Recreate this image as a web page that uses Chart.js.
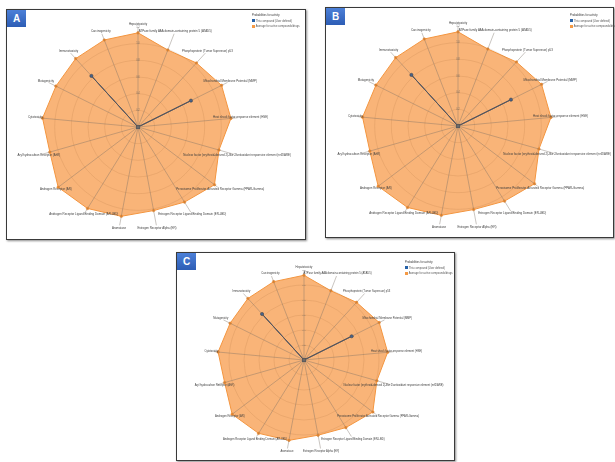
<!DOCTYPE html>
<html>
<head>
<meta charset="utf-8">
<script src="https://cdn.jsdelivr.net/npm/chart.js@4.4.1/dist/chart.umd.min.js"></script>
<style>
  html,body{margin:0;padding:0;background:#fff;}
  body{width:615px;height:462px;position:relative;overflow:hidden;font-family:"Liberation Sans",Arial,sans-serif;}
  .panel{position:absolute;box-sizing:border-box;border:1px solid #3a3a3a;box-shadow:1px 1px 2px rgba(0,0,0,0.45);background:#fff;}
  .panel canvas{position:absolute;left:0;top:0;}
  .tag{position:absolute;left:0;top:0;width:19px;height:17px;background:linear-gradient(#4c80d8,#2d5db5);color:#fff;font-weight:bold;font-size:10px;line-height:17px;text-align:center;}
  .lg{position:absolute;font-size:2.7px;line-height:5.5px;color:#555;white-space:nowrap;}
  .lg .lt{color:#333;}
  .sw{display:inline-block;width:2.6px;height:2.6px;margin-right:1.2px;vertical-align:middle;}
</style>
</head>
<body>

<div class="panel" id="pA" style="left:6px;top:9px;width:300px;height:231px;">
  <canvas id="cA" width="298" height="229"></canvas>
  <div class="tag">A</div>
  <div class="lg" style="left:245px;top:3px;">
    <div class="lt">Probabilities for activity</div>
    <div><span class="sw" style="background:#2762a8"></span>This compound (User defined)</div>
    <div><span class="sw" style="background:#f59a45"></span>Average for active compounds/drugs</div>
  </div>
</div>

<div class="panel" id="pB" style="left:325px;top:7px;width:289px;height:231px;">
  <canvas id="cB" width="287" height="229"></canvas>
  <div class="tag">B</div>
  <div class="lg" style="left:244px;top:5px;">
    <div class="lt">Probabilities for activity</div>
    <div><span class="sw" style="background:#2762a8"></span>This compound (User defined)</div>
    <div><span class="sw" style="background:#f59a45"></span>Average for active compounds/drugs</div>
  </div>
</div>

<div class="panel" id="pC" style="left:176px;top:252px;width:279px;height:209px;">
  <canvas id="cC" width="277" height="207"></canvas>
  <div class="tag">C</div>
  <div class="lg" style="left:228px;top:7px;">
    <div class="lt">Probabilities for activity</div>
    <div><span class="sw" style="background:#2762a8"></span>This compound (User defined)</div>
    <div><span class="sw" style="background:#f59a45"></span>Average for active compounds/drugs</div>
  </div>
</div>

<script>
// ---- data ----
const targets = [
  "Hepatotoxicity",
  "ATPase family AAA domain-containing protein 5 (ATAD5)",
  "Phosphoprotein (Tumor Supressor) p53",
  "Mitochondrial Membrane Potential (MMP)",
  "Heat shock factor response element (HSE)",
  "Nuclear factor (erythroid-derived 2)-like 2/antioxidant responsive element (nrf2/ARE)",
  "Peroxisome Proliferator Activated Receptor Gamma (PPAR-Gamma)",
  "Estrogen Receptor Ligand Binding Domain (ER-LBD)",
  "Estrogen Receptor Alpha (ER)",
  "Aromatase",
  "Androgen Receptor Ligand Binding Domain (AR-LBD)",
  "Androgen Receptor (AR)",
  "Aryl hydrocarbon Receptor (AhR)",
  "Cytotoxicity",
  "Mutagenicity",
  "Immunotoxicity",
  "Carcinogenicity"
];
const thisCompound = [0, 0, 0, 0.71, 0, 0, 0, 0, 0, 0, 0, 0, 0, 0, 0, 0.83, 0];
const averageActive = [1.13, 0.99, 1.04, 1.12, 1.12, 1.01, 1.15, 1.06, 1.02, 1.09, 1.15, 1.2, 1.10, 1.15, 1.10, 1.11, 1.12];
const seriesNames = ["This compound (User defined)", "Average for active compounds/drugs"];
const scaleMax = 1.2;
const scaleStep = 0.2;

// ---- centred point labels drawn at the outer ring ----
const centredLabels = {
  id: 'centredLabels',
  afterDraw(chart, args, opts) {
    const s = chart.scales.r, ctx = chart.ctx;
    ctx.save();
    ctx.font = opts.size + 'px "Liberation Sans", Arial, sans-serif';
    ctx.fillStyle = opts.color;
    ctx.textAlign = 'center';
    ctx.textBaseline = 'middle';
    chart.data.labels.forEach((lab, i) => {
      const p = s.getPointPosition(i, s.drawingArea + opts.offset);
      ctx.fillText(lab, p.x, p.y);
    });
    ctx.restore();
  }
};

function makeChart(id, pad, fontSize) {
  return new Chart(document.getElementById(id), {
    type: 'radar',
    data: {
      labels: targets,
      datasets: [
        {
          label: seriesNames[0],
          data: thisCompound,
          borderColor: 'rgba(60,70,90,0.9)',
          backgroundColor: 'rgba(39,98,168,0.15)',
          borderWidth: 1,
          pointRadius: 1.6,
          pointBackgroundColor: '#3a5f95',
          pointBorderColor: '#444',
          pointBorderWidth: 0.6,
          fill: true
        },
        {
          label: seriesNames[1],
          data: averageActive,
          borderColor: '#f3953f',
          backgroundColor: 'rgba(246,144,56,0.68)',
          borderWidth: 1,
          pointRadius: 1.3,
          pointBackgroundColor: '#ee8a2e',
          pointBorderColor: '#ee8a2e',
          pointBorderWidth: 0.5,
          fill: true
        }
      ]
    },
    options: {
      responsive: false,
      animation: false,
      devicePixelRatio: 1,
      layout: { padding: pad },
      plugins: {
        legend: { display: false },
        tooltip: { enabled: false },
        centredLabels: { size: fontSize, color: '#3c3c3c', offset: 3 }
      },
      scales: {
        r: {
          min: 0,
          max: scaleMax,
          ticks: {
            stepSize: scaleStep,
            showLabelBackdrop: false,
            color: 'rgba(90,90,90,0.75)',
            font: { size: fontSize * 0.9, family: '"Liberation Sans", Arial, sans-serif' },
            z: 1
          },
          grid: {
            color: (c) => (c.tick && c.tick.value >= scaleMax) ? 'rgba(0,0,0,0)' : 'rgba(150,90,40,0.18)',
            lineWidth: 0.8, circular: true, z: 1
          },
          angleLines: { color: 'rgba(120,110,100,0.5)', lineWidth: 0.8 },
          pointLabels: { display: false }
        }
      }
    },
    plugins: [centredLabels]
  });
}

// padding so the radar centre and radius line up inside each panel
makeChart('cA', { left: 27, top: 13, right: 63, bottom: 8 }, 2.9);
makeChart('cB', { left: 28, top: 14, right: 51, bottom: 7 }, 2.9);
makeChart('cC', { left: 33, top: 13, right: 56, bottom: 6 }, 2.7);
</script>
</body>
</html>
